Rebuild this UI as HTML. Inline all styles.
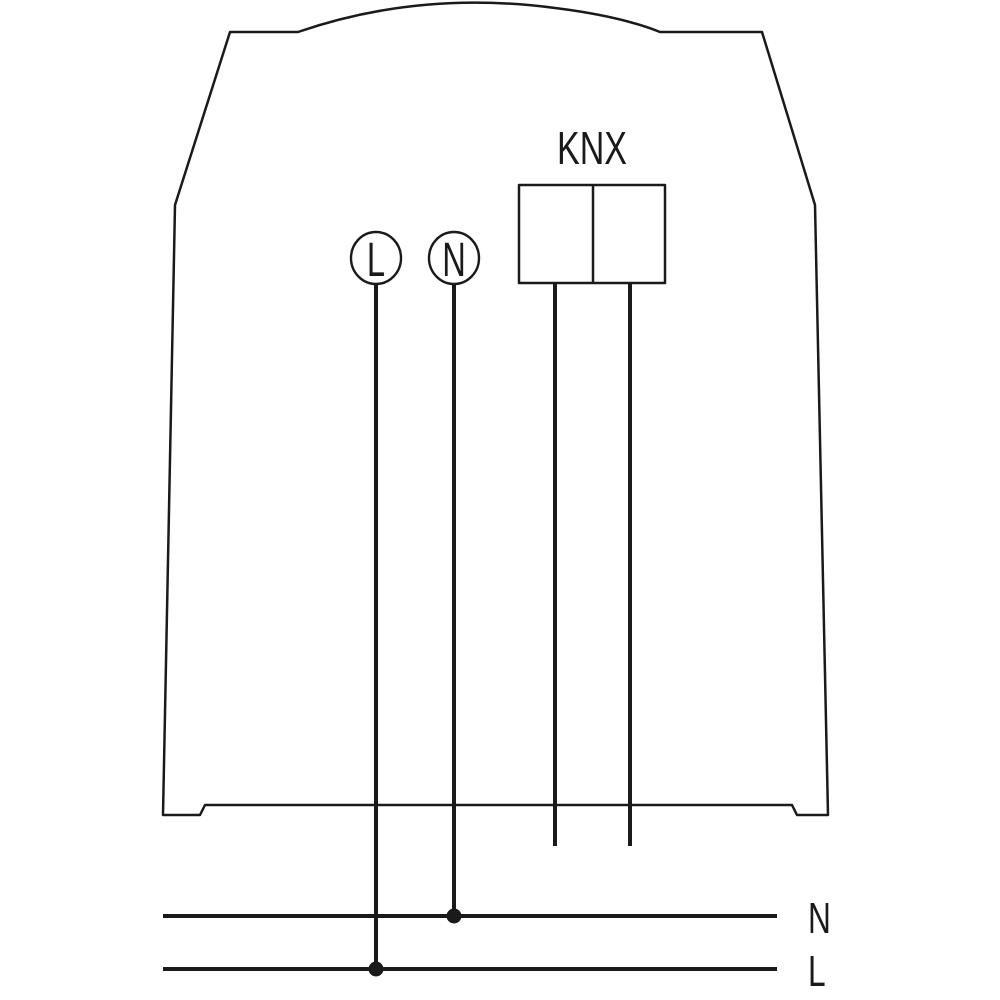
<!DOCTYPE html>
<html><head><meta charset="utf-8"><style>
html,body{margin:0;padding:0;background:#fff;}
svg{display:block;}
text{font-family:"Liberation Sans",sans-serif;fill:#1a1a1a;}
</style></head><body>
<svg width="1000" height="1000" viewBox="0 0 1000 1000" xmlns="http://www.w3.org/2000/svg">
<g fill="none" stroke="#1a1a1a" stroke-linejoin="round">
<path d="M230,32 L298,32 Q420,-10 555,8 Q620,16 660,32 L762,32 L815,205 L828,815 L797,815 L792,805 L205,805 L200,815 L163,815 L175,205 Z" stroke-width="2.5"/>
<rect x="519" y="185" width="146" height="98" stroke-width="2.5"/>
<line x1="593" y1="185" x2="593" y2="283" stroke-width="2.5"/>
<ellipse cx="376" cy="258" rx="25" ry="26" stroke-width="2.4"/>
<ellipse cx="454" cy="258" rx="25" ry="26" stroke-width="2.4"/>
<g stroke-width="4">
<line x1="376" y1="284" x2="376" y2="970"/>
<line x1="454" y1="284" x2="454" y2="916"/>
<line x1="555" y1="283" x2="555" y2="846"/>
<line x1="630" y1="283" x2="630" y2="846"/>
<line x1="163" y1="916" x2="777" y2="916"/>
<line x1="163" y1="969" x2="777" y2="969"/>
</g>
</g>
<circle cx="454" cy="916" r="7.5" fill="#1a1a1a"/>
<circle cx="376" cy="969" r="7.5" fill="#1a1a1a"/>
<g transform="translate(376,276) scale(0.68,1)"><text x="0" y="0" font-size="48" text-anchor="middle">L</text></g>
<g transform="translate(454,276) scale(0.68,1)"><text x="0" y="0" font-size="48" text-anchor="middle">N</text></g>
<g transform="translate(592,164) scale(0.74,1)"><text x="0" y="0" font-size="46" text-anchor="middle">KNX</text></g>
<g transform="translate(808,933) scale(0.72,1)"><text x="0" y="0" font-size="44">N</text></g>
<g transform="translate(808,986) scale(0.72,1)"><text x="0" y="0" font-size="44">L</text></g>
</svg>
</body></html>
